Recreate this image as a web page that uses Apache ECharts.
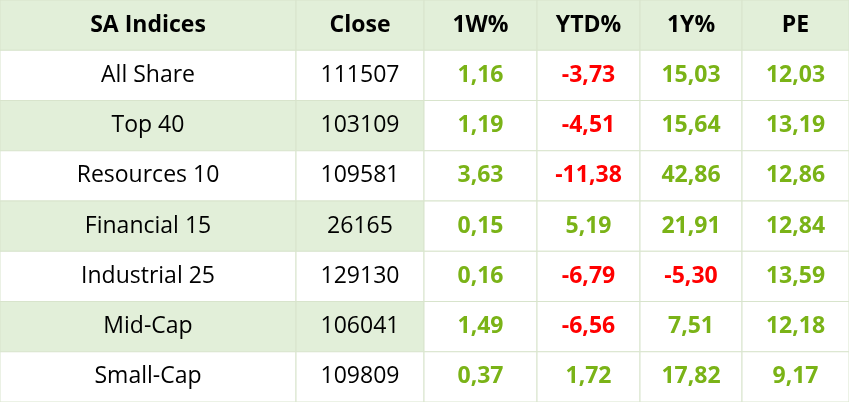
<!DOCTYPE html>
<html><head><meta charset="utf-8">
<script src="https://cdn.jsdelivr.net/npm/echarts@6/dist/echarts.min.js"></script>
<style>html,body{margin:0;padding:0;background:#fff}#c{width:849px;height:402px}</style>
</head><body><div id="c"></div>
<script>
const headers = ["SA Indices","Close","1W%","YTD%","1Y%","PE"];
const indices = ["All Share","Top 40","Resources 10","Financial 15","Industrial 25","Mid-Cap","Small-Cap"];
const closeVals = [111507,103109,109581,26165,129130,106041,109809];
const w1 = [1.16,1.19,3.63,0.15,0.16,1.49,0.37];
const ytd = [-3.73,-4.51,-11.38,5.19,-6.79,-6.56,1.72];
const y1 = [15.03,15.64,42.86,21.91,-5.30,7.51,17.82];
const pe = [12.03,13.19,12.86,12.84,13.59,12.18,9.17];

const colEdges = [0,296,424,537,640,742,849];
const rows = ["h"].concat(indices.map((_,i)=>i));
const data = [];
rows.forEach((r,ri)=>{ for(let c=0;c<6;c++) data.push([c,ri]); });
const fmt = v => v.toFixed(2).replace('.',',');
function cellText(c,ri){
  if(ri===0) return headers[c];
  const i=ri-1;
  return [indices[i],String(closeVals[i]),fmt(w1[i]),fmt(ytd[i]),fmt(y1[i]),fmt(pe[i])][c];
}
function cellValue(c,ri){ const i=ri-1; return [null,null,w1[i],ytd[i],y1[i],pe[i]][c]; }
const chart = echarts.init(document.getElementById('c'));
chart.setOption({
  animation:false,
  grid:{left:0,right:0,top:0,bottom:0},
  xAxis:{type:'value',min:0,max:849,show:false},
  yAxis:{type:'category',data:rows.map(String),inverse:true,show:false},
  series:[{
    type:'custom',
    data:data,
    renderItem:(params,api)=>{
      const c=api.value(0), ri=api.value(1);
      const x0=api.coord([colEdges[c],ri])[0], x1=api.coord([colEdges[c+1],ri])[0];
      const h=api.size([0,1])[1];
      const yc=api.coord([0,ri])[1];
      const y0=yc-h/2;
      let bg='#ffffff';
      if(ri===0 || (ri%2===0 && c<2)) bg='#e2efd9';
      let color='#000', weight='normal';
      if(ri===0){weight='bold';}
      else if(c>=2){weight='bold'; color=cellValue(c,ri)<0?'#ff0000':'#7ab317';}
      return {type:'group',children:[
        {type:'rect',shape:{x:x0,y:y0,width:x1-x0,height:h},style:{fill:bg,stroke:'#d8e4cc',lineWidth:1}},
        {type:'text',x:(x0+x1)/2,y:yc,style:{text:cellText(c,ri),align:'center',verticalAlign:'middle',
          fill:color,font:weight+' 23px "Open Sans", Roboto, sans-serif'}}
      ]};
    }
  }]
});
</script></body></html>
